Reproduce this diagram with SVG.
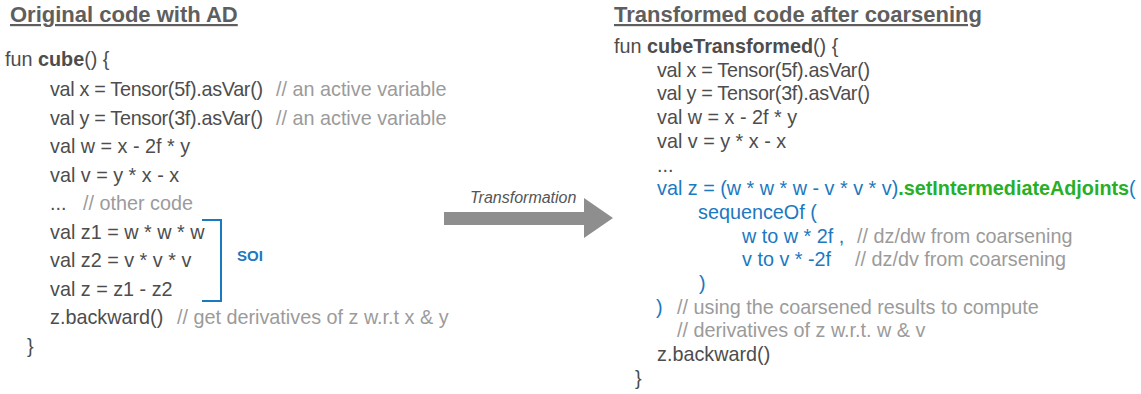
<svg xmlns="http://www.w3.org/2000/svg" width="1141" height="394" viewBox="0 0 1141 394">
<style>
text{font-family:"Liberation Sans",Arial,sans-serif;}
.title{font-size:22px;font-weight:bold;fill:#5e5e5e;text-decoration:underline;}
.code{font-size:19.8px;fill:#4d4d4d;}
.cm{fill:#9b9b9b;}
.b{font-weight:bold;}
.blue{fill:#1b79c0;}
.green{fill:#27b027;font-weight:bold;}
.soi{font-size:15px;font-weight:bold;fill:#1b79c0;}
.arrowlbl{font-size:16px;font-style:italic;fill:#555;}
</style>
<rect width="1141" height="394" fill="#ffffff"/>

<g id="original">
<text class="title" x="10" y="22">Original code with AD</text>
<text class="code" x="5" y="66">fun <tspan class="b">cube</tspan>() {</text>
<text class="code" x="50" y="96"><tspan textLength="213">val x = Tensor(5f).asVar()</tspan><tspan class="cm" x="276">// an active variable</tspan></text>
<text class="code" x="50" y="124.5"><tspan textLength="213">val y = Tensor(3f).asVar()</tspan><tspan class="cm" x="276">// an active variable</tspan></text>
<text class="code" x="50" y="153">val w = x - 2f * y</text>
<text class="code" x="50" y="181.5">val v = y * x - x</text>
<text class="code" x="50" y="210">...<tspan class="cm" x="83">// other code</tspan></text>
<text class="code" x="50" y="238.5">val z1 = w * w * w</text>
<text class="code" x="50" y="267">val z2 = v * v * v</text>
<text class="code" x="50" y="295.5">val z = z1 - z2</text>
<text class="code" x="50" y="324">z.backward()<tspan class="cm" x="177">// get derivatives of z w.r.t x &amp; y</tspan></text>
<text class="code" x="27" y="352.5">}</text>
</g>

<g id="soi">
<polyline points="202,220 221,220 221,301 202,301" fill="none" stroke="#1b79c0" stroke-width="2"/>
<text class="soi" x="237" y="261">SOI</text>
</g>

<g id="connectors">
<polygon points="444,212 584,212 584,198 613,218 584,238 584,225 444,225" fill="#8e8e8e"/>
<text class="arrowlbl" x="470" y="203">Transformation</text>
</g>

<g id="transformed">
<text class="title" x="614" y="22">Transformed code after coarsening</text>
<text class="code" x="614" y="53">fun <tspan class="b">cubeTransformed</tspan>() {</text>
<text class="code" x="657" y="76.7" textLength="213">val x = Tensor(5f).asVar()</text>
<text class="code" x="657" y="100.4" textLength="213">val y = Tensor(3f).asVar()</text>
<text class="code" x="657" y="124.1">val w = x - 2f * y</text>
<text class="code" x="657" y="147.8">val v = y * x - x</text>
<text class="code" x="657" y="171.5">...</text>
<text class="code blue" x="657" y="195.2">val z = (w * w * w - v * v * v)<tspan class="green">.setIntermediateAdjoints</tspan>(</text>
<text class="code blue" x="698" y="218.9">sequenceOf (</text>
<text class="code blue" x="742" y="242.6">w to w * 2f ,<tspan class="cm" x="857">// dz/dw from coarsening</tspan></text>
<text class="code blue" x="742" y="266.3">v to v * -2f<tspan class="cm" x="855">// dz/dv from coarsening</tspan></text>
<text class="code blue" x="699" y="290">)</text>
<text class="code blue" x="656" y="313.7">)<tspan class="cm" x="677">// using the coarsened results to compute</tspan></text>
<text class="code cm" x="677" y="337.4">// derivatives of z w.r.t. w &amp; v</text>
<text class="code" x="657" y="361.1">z.backward()</text>
<text class="code" x="635" y="384.8">}</text>
</g>
</svg>
